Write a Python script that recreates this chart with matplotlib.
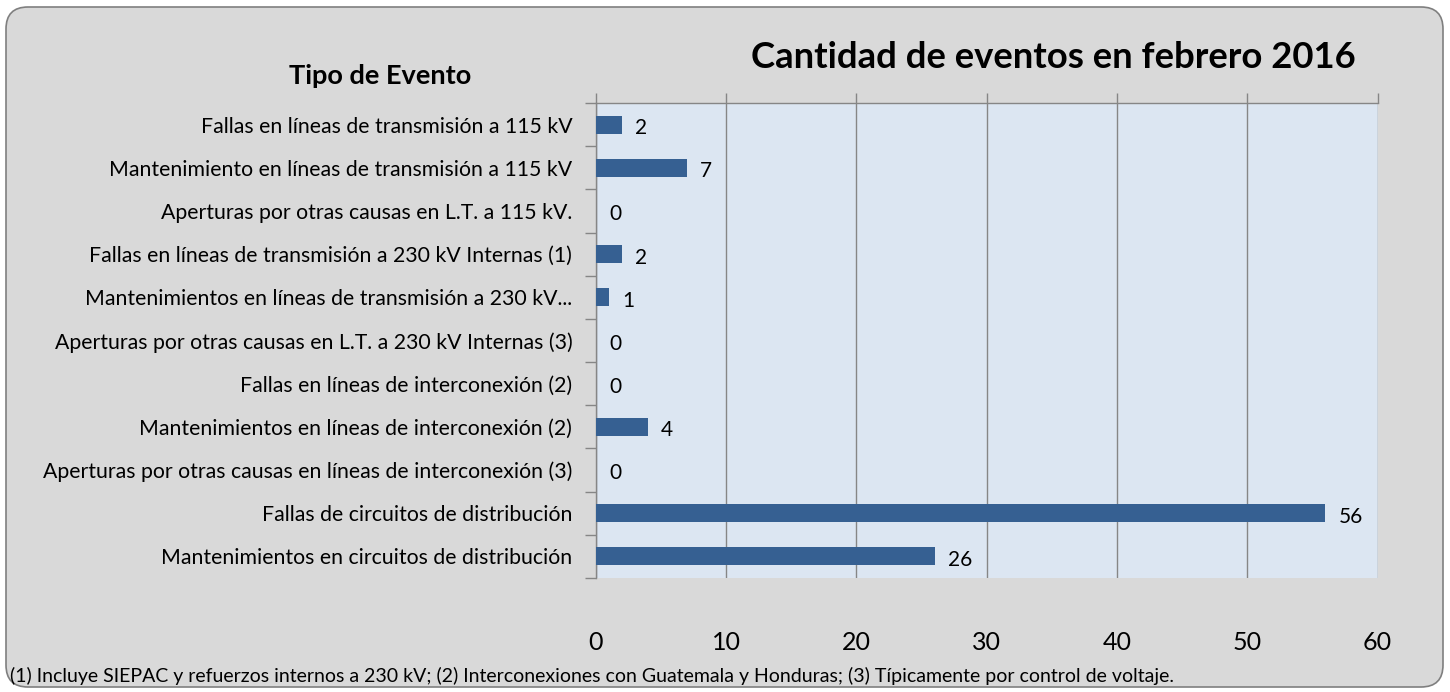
import matplotlib
matplotlib.use('Agg')
import matplotlib.pyplot as plt
from matplotlib.patches import FancyBboxPatch

plt.rcParams['font.family'] = ['Lato', 'DejaVu Sans']

# datos
categorias = [
    'Fallas en líneas de transmisión a 115 kV',
    'Mantenimiento en líneas de transmisión a 115 kV',
    'Aperturas por otras causas en L.T. a 115 kV.',
    'Fallas en líneas de transmisión a 230 kV Internas (1)',
    'Mantenimientos en líneas de transmisión a 230 kV...',
    'Aperturas por otras causas en L.T. a 230 kV Internas (3)',
    'Fallas en líneas de interconexión (2)',
    'Mantenimientos en líneas de interconexión (2)',
    'Aperturas por otras causas en líneas de interconexión (3)',
    'Fallas de circuitos de distribución',
    'Mantenimientos en circuitos de distribución',
]
eventos = [2, 7, 0, 2, 1, 0, 0, 4, 0, 56, 26]
xticks = [0, 10, 20, 30, 40, 50, 60]

titulo = 'Cantidad de eventos en febrero 2016'
titulo_y = 'Tipo de Evento'
nota = ('(1) Incluye SIEPAC y refuerzos internos a 230 kV; (2) Interconexiones con Guatemala y Honduras; '
        '(3) Típicamente por control de voltaje.')

fig = plt.figure(figsize=(14.5, 6.92), dpi=100)
fig.patch.set_facecolor('white')

# marco redondeado gris
marco = FancyBboxPatch((6, 5), 1437, 680, boxstyle='round,pad=0,rounding_size=22',
                       transform=None, facecolor='#d9d9d9', edgecolor='#7f7f7f',
                       linewidth=1.2, zorder=-10)
fig.patches.append(marco)

ax = fig.add_axes([0.411, 0.165, 0.539, 0.686])
ax.set_zorder(1)
ax.set_facecolor('#dce6f2')

n = len(categorias)
pos = list(range(n))
ax.barh(pos, eventos, height=0.42, color='#366092', linewidth=0, zorder=3)
for p, v in zip(pos, eventos):
    ax.text(v + 1.0, p + 0.08, str(v), va='center', ha='left', fontsize=15, color='black', zorder=4)

ax.set_ylim(n - 0.5, -0.5)
ax.set_xlim(0, 60)
ax.set_yticks(pos)
ax.set_yticklabels(categorias, fontsize=15.3)
ax.set_yticks([i - 0.5 for i in range(n + 1)], minor=True)
ax.tick_params(axis='y', which='major', length=0, pad=17)
ax.tick_params(axis='y', which='minor', length=8, color='#868686', width=1)

ax.set_xticks(xticks)
ax.tick_params(axis='x', top=True, bottom=False, labeltop=False, labelbottom=True,
               length=7, color='#868686', width=1, pad=31, labelsize=18)
ax.grid(axis='x', color='#868686', linewidth=1, zorder=1)
ax.set_axisbelow(True)

for s in ['left', 'top']:
    ax.spines[s].set_color('#868686')
    ax.spines[s].set_linewidth(1)
ax.spines['right'].set_visible(False)
ax.spines['bottom'].set_visible(False)

fig.text(1053 / 1450, 1 - 58 / 692, titulo, ha='center', va='center', fontsize=26.3, fontweight='bold')
fig.text(380 / 1450, 1 - 76 / 692, titulo_y, ha='center', va='center', fontsize=19.5, fontweight='bold')
fig.text(10 / 1450, 1 - 676 / 692, nota, ha='left', va='center', fontsize=14)

fig.savefig('out.png', dpi=100, facecolor=fig.get_facecolor())
